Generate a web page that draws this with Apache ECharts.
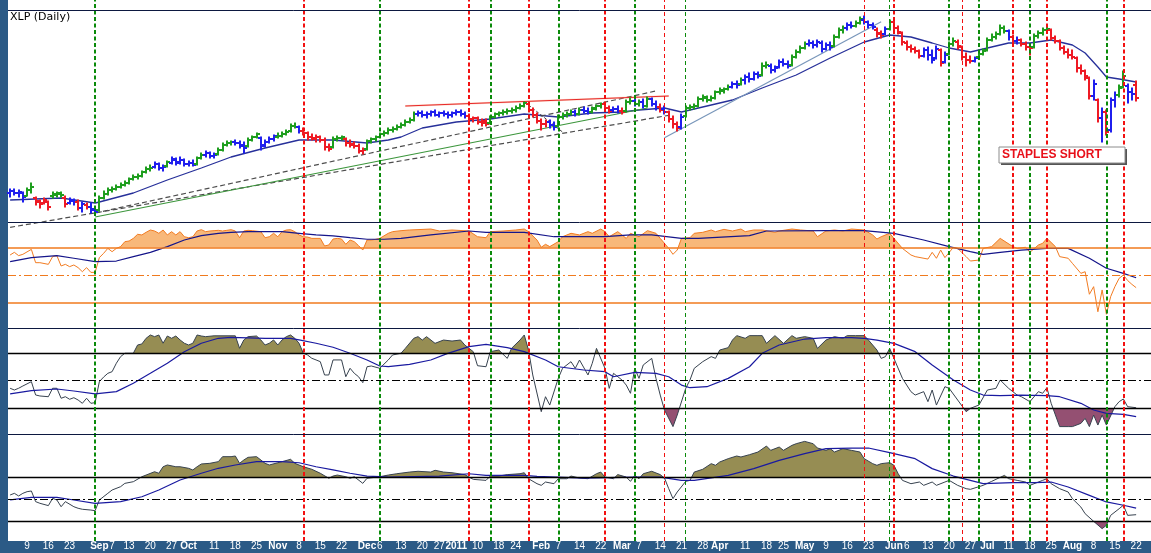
<!DOCTYPE html>
<html><head><meta charset="utf-8">
<script src="https://cdn.jsdelivr.net/npm/echarts@6/dist/echarts.min.js"></script>
<style>html,body{margin:0;padding:0;background:#fff;overflow:hidden}#c{width:1151px;height:553px}</style>
</head><body><div id="c"></div>
<script>
// ---------- calendar ----------
const holidays = ['2010-09-06','2010-11-25','2010-12-24','2010-12-31','2011-01-17','2011-02-21','2011-04-22','2011-05-30','2011-07-04'];
const categories = [];
(function(){
  const d = new Date(Date.UTC(2010,7,3)), end = Date.UTC(2011,7,25);
  while (d.getTime() <= end) {
    const wd = d.getUTCDay(), s = d.toISOString().slice(0,10);
    if (wd !== 0 && wd !== 6 && holidays.indexOf(s) < 0) categories.push(s);
    d.setUTCDate(d.getUTCDate()+1);
  }
})();

// ---------- tick labels ----------
const tickDates = ['2010-08-09','2010-08-16','2010-08-23','2010-09-01','2010-09-07','2010-09-13','2010-09-20','2010-09-27','2010-10-01','2010-10-11','2010-10-18','2010-10-25','2010-11-01','2010-11-08','2010-11-15','2010-11-22','2010-12-01','2010-12-06','2010-12-13','2010-12-20','2010-12-27','2011-01-03','2011-01-10','2011-01-18','2011-01-24','2011-02-01','2011-02-07','2011-02-14','2011-02-22','2011-03-01','2011-03-07','2011-03-14','2011-03-21','2011-03-28','2011-04-01','2011-04-11','2011-04-18','2011-04-25','2011-05-02','2011-05-09','2011-05-16','2011-05-23','2011-06-01','2011-06-06','2011-06-13','2011-06-20','2011-06-27','2011-07-01','2011-07-11','2011-07-18','2011-07-25','2011-08-01','2011-08-08','2011-08-15','2011-08-22'];
const tickTexts = ['9','16','23','Sep','7','13','20','27','Oct','11','18','25','Nov','8','15','22','Dec','6','13','20','27','2011','10','18','24','Feb','7','14','22','Mar','7','14','21','28','Apr','11','18','25','May','9','16','23','Jun','6','13','20','27','Jul','11','18','25','Aug','8','15','22'];

// ---------- XLP daily OHLC ----------
const opens = [
26.67,26.73,26.67,26.67,26.58,26.76,26.52,26.43,26.37,26.40,
26.58,26.61,26.64,26.52,26.37,26.43,26.40,26.22,26.31,26.25,
26.19,26.16,26.52,26.64,26.76,26.79,26.85,26.91,26.97,27.09,
27.15,27.18,27.30,27.39,27.45,27.54,27.42,27.48,27.57,27.66,
27.60,27.66,27.54,27.57,27.54,27.72,27.81,27.87,27.78,27.84,
27.96,28.11,28.17,28.20,28.17,28.08,28.08,28.26,28.35,28.32,
28.11,28.20,28.29,28.35,28.38,28.44,28.53,28.68,28.65,28.53,
28.47,28.35,28.32,28.35,28.26,28.05,28.05,28.29,28.32,28.29,
28.17,28.14,28.08,27.93,27.99,28.23,28.29,28.35,28.44,28.47,
28.56,28.59,28.65,28.71,28.80,28.86,29.04,29.07,29.01,29.04,
29.10,29.01,29.07,29.04,29.01,29.07,29.10,29.04,28.98,28.89,
28.92,28.80,28.83,28.77,28.95,29.04,29.07,29.10,29.13,29.16,
29.22,29.28,29.34,29.16,29.01,28.83,28.74,28.80,28.71,28.68,
28.95,29.01,29.04,29.10,29.04,29.16,29.13,29.10,29.19,29.28,
29.34,29.22,29.16,29.19,29.13,29.13,29.40,29.43,29.34,29.40,
29.28,29.49,29.34,29.25,29.19,29.10,28.89,28.74,28.65,28.98,
29.22,29.25,29.28,29.49,29.52,29.46,29.52,29.70,29.73,29.79,
29.85,29.94,29.94,30.06,30.15,30.09,30.24,30.21,30.48,30.48,
30.36,30.45,30.60,30.54,30.51,30.75,30.90,31.02,31.14,31.17,
31.11,31.17,30.99,31.11,31.08,31.35,31.56,31.62,31.71,31.68,
31.77,31.86,31.80,31.71,31.56,31.47,31.44,31.59,31.80,31.62,
31.47,31.17,31.05,30.99,30.93,30.78,30.96,30.81,30.72,30.96,
30.60,30.84,31.14,31.20,31.05,30.75,30.66,30.63,30.75,30.84,
30.96,31.26,31.35,31.44,31.62,31.53,31.35,31.23,31.26,31.14,
31.05,31.05,31.38,31.47,31.56,31.56,31.32,31.23,31.02,30.90,
30.81,30.72,30.42,30.33,30.12,29.58,29.46,28.92,29.10,28.56,
29.46,29.61,29.85,29.88,29.70,29.91];
const highs = [
26.79,26.79,26.76,26.70,26.82,26.97,26.55,26.46,26.52,26.43,
26.70,26.70,26.70,26.58,26.52,26.49,26.46,26.40,26.37,26.37,
26.25,26.58,26.73,26.82,26.85,26.91,26.97,27.03,27.12,27.21,
27.24,27.33,27.45,27.51,27.60,27.57,27.51,27.63,27.75,27.72,
27.75,27.69,27.63,27.66,27.75,27.87,27.93,27.90,27.87,28.02,
28.17,28.23,28.23,28.26,28.23,28.20,28.32,28.38,28.47,28.35,
28.26,28.35,28.41,28.47,28.50,28.56,28.74,28.77,28.68,28.62,
28.50,28.44,28.41,28.38,28.32,28.14,28.35,28.38,28.38,28.32,
28.26,28.20,28.14,28.02,28.26,28.32,28.38,28.47,28.53,28.62,
28.65,28.71,28.77,28.86,28.92,29.10,29.13,29.13,29.10,29.13,
29.16,29.10,29.13,29.10,29.10,29.16,29.16,29.10,29.04,28.95,
28.95,28.89,28.89,28.98,29.07,29.10,29.16,29.19,29.22,29.28,
29.34,29.40,29.37,29.22,29.07,28.89,28.86,28.86,28.80,29.01,
29.07,29.10,29.16,29.16,29.22,29.25,29.22,29.25,29.31,29.37,
29.37,29.28,29.25,29.28,29.22,29.46,29.52,29.49,29.46,29.49,
29.55,29.52,29.43,29.34,29.28,29.13,28.98,28.80,29.04,29.28,
29.31,29.34,29.55,29.61,29.58,29.58,29.73,29.82,29.82,29.91,
30.00,30.03,30.12,30.21,30.27,30.30,30.30,30.57,30.60,30.54,
30.48,30.66,30.69,30.63,30.81,30.96,31.08,31.20,31.26,31.23,
31.26,31.23,31.17,31.20,31.41,31.62,31.68,31.77,31.80,31.83,
31.95,31.98,31.83,31.77,31.62,31.53,31.65,31.86,31.86,31.68,
31.50,31.23,31.11,31.05,30.96,31.02,31.05,30.96,31.08,30.99,
30.90,31.20,31.32,31.26,31.08,30.87,30.78,30.75,30.90,30.99,
31.32,31.44,31.50,31.71,31.68,31.56,31.41,31.35,31.29,31.20,
31.11,31.44,31.53,31.62,31.65,31.59,31.38,31.26,31.08,30.99,
30.96,30.75,30.51,30.36,30.15,30.06,29.49,29.22,29.16,29.52,
29.70,29.91,30.33,29.94,29.82,30.03];
const lows = [
26.55,26.61,26.55,26.40,26.58,26.67,26.31,26.22,26.34,26.16,
26.52,26.55,26.55,26.25,26.34,26.31,26.16,26.10,26.19,26.07,
26.04,26.13,26.49,26.61,26.70,26.76,26.82,26.88,26.94,27.06,
27.09,27.15,27.27,27.33,27.42,27.36,27.33,27.45,27.54,27.51,
27.54,27.48,27.48,27.48,27.51,27.69,27.75,27.72,27.72,27.81,
27.93,28.08,28.11,28.11,28.02,27.87,28.05,28.23,28.32,27.96,
28.05,28.17,28.23,28.32,28.35,28.41,28.50,28.62,28.47,28.41,
28.26,28.26,28.20,28.20,27.96,27.93,28.02,28.23,28.26,28.08,
28.05,28.02,27.87,27.84,27.96,28.17,28.23,28.32,28.38,28.44,
28.50,28.56,28.62,28.68,28.77,28.83,28.98,28.95,28.92,28.98,
28.98,28.95,28.98,28.92,28.95,29.01,28.98,28.92,28.83,28.80,
28.74,28.68,28.68,28.74,28.92,28.98,29.01,29.04,29.07,29.10,
29.19,29.25,29.10,28.95,28.77,28.56,28.65,28.62,28.56,28.65,
28.89,28.95,29.01,28.98,29.01,29.07,29.04,29.07,29.16,29.22,
29.16,29.07,29.10,29.07,29.04,29.10,29.34,29.28,29.28,29.22,
29.25,29.28,29.16,29.10,29.04,28.80,28.62,28.53,28.59,28.95,
29.16,29.19,29.25,29.43,29.40,29.43,29.49,29.64,29.67,29.76,
29.82,29.82,29.91,29.94,30.00,30.06,30.12,30.18,30.42,30.27,
30.30,30.42,30.48,30.42,30.48,30.72,30.87,30.99,31.08,31.02,
31.05,30.90,30.96,30.96,31.05,31.32,31.47,31.56,31.62,31.65,
31.74,31.74,31.62,31.59,31.35,31.32,31.41,31.56,31.56,31.44,
31.11,30.96,30.90,30.87,30.72,30.75,30.66,30.57,30.69,30.48,
30.57,30.81,31.08,30.99,30.66,30.48,30.57,30.60,30.72,30.81,
30.93,31.23,31.29,31.41,31.47,31.26,31.17,31.14,31.08,30.96,
30.81,31.02,31.32,31.41,31.47,31.26,31.17,30.96,30.84,30.72,
30.69,30.30,30.24,30.06,29.49,29.46,28.80,28.20,28.41,28.50,
29.25,29.55,29.82,29.37,29.46,29.43];
const closes = [
26.73,26.67,26.70,26.55,26.76,26.85,26.40,26.34,26.46,26.25,
26.64,26.67,26.61,26.34,26.46,26.40,26.22,26.34,26.25,26.16,
26.10,26.52,26.64,26.76,26.79,26.85,26.91,26.97,27.09,27.15,
27.18,27.30,27.39,27.42,27.54,27.42,27.45,27.60,27.69,27.57,
27.66,27.54,27.57,27.51,27.72,27.81,27.87,27.78,27.81,27.96,
28.11,28.17,28.20,28.17,28.11,28.02,28.26,28.35,28.44,28.08,
28.20,28.29,28.38,28.38,28.44,28.50,28.68,28.65,28.53,28.47,
28.35,28.29,28.35,28.26,28.05,27.99,28.29,28.32,28.35,28.17,
28.11,28.08,27.93,27.96,28.23,28.29,28.35,28.44,28.47,28.56,
28.59,28.65,28.71,28.80,28.86,29.04,29.07,29.01,29.04,29.10,
29.01,29.07,29.04,29.01,29.07,29.10,29.04,28.98,28.89,28.92,
28.80,28.77,28.74,28.95,29.04,29.07,29.10,29.13,29.16,29.22,
29.28,29.37,29.16,29.01,28.83,28.74,28.80,28.71,28.65,28.95,
29.01,29.04,29.10,29.04,29.16,29.13,29.10,29.22,29.28,29.34,
29.22,29.13,29.19,29.13,29.10,29.40,29.43,29.34,29.40,29.28,
29.49,29.34,29.25,29.16,29.10,28.89,28.74,28.62,28.95,29.22,
29.25,29.28,29.49,29.55,29.46,29.52,29.70,29.76,29.79,29.85,
29.94,29.91,30.06,30.15,30.09,30.24,30.18,30.48,30.51,30.36,
30.42,30.60,30.54,30.48,30.75,30.90,31.02,31.14,31.17,31.11,
31.20,30.99,31.11,31.05,31.35,31.56,31.62,31.71,31.68,31.77,
31.89,31.80,31.71,31.65,31.44,31.41,31.59,31.80,31.62,31.50,
31.20,31.05,30.99,30.93,30.78,30.96,30.81,30.66,30.99,30.57,
30.81,31.14,31.23,31.08,30.75,30.66,30.63,30.72,30.84,30.93,
31.26,31.35,31.44,31.62,31.53,31.35,31.23,31.26,31.14,31.05,
31.02,31.38,31.47,31.56,31.59,31.32,31.23,31.02,30.90,30.81,
30.75,30.42,30.33,30.18,29.58,29.94,28.92,29.10,28.50,29.46,
29.61,29.82,30.18,29.70,29.64,29.52];
// impulse state per bar: g = up, r = down, b = neutral
const impulseCodes = 'bbbbggrrrr'+'gggrbbrbrb'+'bggggggggg'+'ggggbbbgbb'+'bbbbggbbbg'+'gggbbbgggb'+'bbbgggggbr'+'rrrrrrgggr'+'rrrrgggggg'+'ggggggbbbb'+
 'bbbbbbbbrr'+'rrrggggggg'+'ggrrrrrbbg'+'gggbgbbggg'+'rrbbrggbgb'+'gbbrbrrrbg'+'gggggggggg'+'bbgbbbbggb'+'bbbbggggbb'+'bbbbgggbbg'+
 'gbbbrrbgrr'+'rrrrrbbbbr'+'bggrrrrbgg'+'gggggbrbrr'+'rggggrrrrr'+'rrrrrbrbrb'+'bggbbr';

// price moving average [barIndex, value]
const priceMA = [[0,26.46],[12,26.52],[20,26.37],[21,26.40],[29,26.67],[37,27.06],[45,27.42],[52,27.75],[60,28.02],[68,28.26],[76,28.26],[84,28.17],[89,28.26],[92,28.35],[97,28.62],[105,28.80],[113,28.89],[121,29.04],[129,28.95],[137,29.07],[144,29.10],[148,29.16],[154,29.22],[158,29.10],[162,29.22],[170,29.46],[177,29.82],[185,30.21],[193,30.72],[201,31.20],[207,31.41],[212,31.35],[217,31.17],[221,31.02],[226,30.90],[231,31.05],[235,31.17],[240,31.17],[245,31.26],[250,31.11],[253,30.87],[256,30.45],[258,30.15],[261,30.09],[265,30.00]];

// trend lines [barIndex, price]
const lowerChannel = [[0,25.64],[155,29.00]];
const upperChannel = [[20,26.07],[152,29.73]];
const greenTrend = [[20,25.95],[150,29.22]];
const redResistance = [[93,29.28],[155,29.58]];
const shortDown = [[122,29.31],[130,28.50]];
const steelTrend = [[154,28.33],[205,31.81]];

// panel 2 (orange oscillator) and its average
const osc1 = [[0,68.2],[1,70.6],[2,67.6],[3,68.8],[5,73.3],[6,61.2],[7,61.2],[9,59.7],[10,66.7],[11,67.6],[12,58.2],[13,59.7],[14,57.6],[15,59.1],[16,56.7],[17,53.0],[18,56.7],[19,52.4],[20,52.4],[21,65.8],[22,69.7],[23,74.2],[24,71.2],[25,74.2],[26,75.8],[27,80.3],[28,80.9],[29,83.3],[30,87.0],[31,86.4],[32,88.8],[33,90.9],[34,90.0],[35,87.9],[36,90.9],[37,86.4],[38,89.4],[39,86.4],[40,89.4],[41,84.8],[42,83.9],[43,84.8],[44,90.0],[45,91.2],[46,89.4],[47,90.0],[48,90.3],[49,90.6],[50,90.0],[51,90.6],[52,91.2],[53,90.0],[54,83.9],[55,90.0],[56,90.6],[57,90.3],[59,89.4],[60,83.9],[61,84.8],[62,87.9],[63,84.8],[64,89.4],[65,90.9],[66,91.2],[67,89.4],[68,86.4],[69,84.8],[70,84.5],[71,83.3],[73,83.3],[74,76.4],[75,77.3],[76,82.7],[77,83.3],[78,82.7],[79,77.9],[80,81.8],[81,80.3],[82,76.7],[83,72.7],[84,81.8],[85,81.8],[86,82.4],[87,83.3],[89,87.9],[90,89.4],[92,90.3],[94,90.9],[99,91.8],[101,90.0],[104,90.9],[108,90.0],[110,84.8],[112,83.9],[113,89.4],[116,90.0],[119,90.9],[121,91.8],[122,89.4],[124,81.8],[125,75.2],[126,77.9],[127,75.8],[129,80.3],[130,84.8],[132,87.9],[134,86.4],[136,89.4],[137,87.9],[139,91.8],[140,89.4],[141,84.8],[143,89.4],[145,83.3],[146,87.9],[148,84.8],[150,90.3],[152,87.9],[153,83.3],[155,74.2],[156,68.8],[157,72.7],[158,83.3],[160,83.9],[161,87.9],[163,88.8],[165,90.9],[166,89.4],[168,91.5],[170,90.0],[172,91.8],[173,89.4],[175,90.9],[177,90.9],[180,88.8],[181,90.0],[184,91.8],[186,90.9],[189,90.0],[190,84.8],[192,90.0],[194,90.9],[196,90.0],[198,91.8],[201,90.9],[203,86.4],[204,82.7],[205,84.8],[207,87.9],[208,83.3],[210,74.2],[212,68.2],[213,66.7],[216,64.5],[217,70.6],[218,65.2],[219,72.7],[220,65.8],[222,75.2],[223,74.2],[225,66.7],[226,62.7],[228,63.6],[229,74.2],[231,75.8],[233,83.3],[236,75.8],[237,74.2],[239,75.2],[240,70.6],[242,77.3],[243,78.8],[244,83.3],[246,75.8],[247,66.7],[249,65.2],[250,60.6],[252,51.5],[253,53.0],[254,32.5],[255,39.4],[256,16.6],[257,36.4],[258,14.3],[259,30.3],[260,39.4],[261,47.0],[262,50.0],[263,45.0],[264,41.5],[265,38.5]];
const osc1MA = [[0,62.1],[5,65.8],[11,67.6],[15,65.2],[20,62.1],[25,62.7],[29,66.7],[33,70.6],[37,75.8],[41,81.8],[45,85.8],[49,87.9],[52,88.8],[56,89.4],[60,89.4],[64,89.4],[68,87.9],[72,86.4],[76,85.5],[80,83.9],[84,82.5],[88,82.5],[92,83.3],[99,86.4],[108,90.0],[112,88.8],[121,88.8],[128,84.8],[140,84.8],[146,86.4],[151,86.4],[158,83.3],[162,83.3],[174,85.8],[178,90.0],[192,90.3],[201,90.3],[208,87.9],[215,81.8],[221,75.8],[226,71.2],[229,68.8],[233,70.6],[238,72.7],[244,74.2],[249,74.2],[254,65.2],[258,56.1],[262,51.5],[265,47.5]];

// panel 3 (stochastic-type 0-100) and its average
const osc2 = [[0,41.8],[1,39.9],[2,41.8],[3,44.3],[5,49.0],[6,34.5],[7,33.4],[9,32.6],[10,41.8],[11,41.8],[12,30.9],[13,32.6],[14,29.8],[15,31.5],[16,29.0],[17,25.4],[18,30.9],[19,25.4],[20,26.1],[21,49.0],[22,54.0],[23,58.1],[24,59.9],[25,69.1],[26,76.3],[27,80.0],[29,80.0],[30,89.0],[31,90.1],[32,96.3],[33,99.9],[34,98.1],[35,99.9],[36,90.9],[37,98.8],[38,96.3],[39,98.8],[40,94.5],[41,90.9],[42,89.0],[43,90.9],[44,99.9],[45,98.8],[46,98.1],[48,99.0],[53,99.0],[54,85.4],[55,94.5],[56,98.1],[58,98.8],[59,94.5],[60,89.0],[61,90.9],[62,94.5],[63,89.0],[64,94.5],[65,98.1],[66,99.9],[67,96.3],[68,90.9],[69,80.0],[70,78.1],[71,74.5],[72,72.7],[73,70.8],[74,56.3],[75,56.3],[76,72.7],[78,72.7],[79,54.4],[80,63.6],[81,58.1],[82,54.4],[83,47.9],[84,65.3],[85,66.1],[87,63.6],[89,72.7],[90,78.1],[92,80.0],[93,85.3],[95,96.3],[96,98.1],[97,94.4],[98,98.1],[100,90.8],[102,94.4],[104,93.3],[106,94.4],[107,89.0],[109,81.7],[110,66.4],[112,65.3],[113,81.7],[115,83.5],[117,74.4],[118,85.3],[120,94.4],[121,99.9],[122,83.5],[123,56.3],[125,16.3],[126,32.6],[127,23.5],[129,52.6],[130,63.5],[132,70.8],[133,63.5],[134,72.6],[136,56.3],[137,69.0],[138,85.3],[140,63.5],[141,41.7],[142,58.1],[144,50.8],[145,45.3],[146,36.3],[147,63.5],[148,52.6],[149,67.2],[151,74.4],[152,52.6],[153,34.4],[154,18.1],[156,0],[157,12.6],[159,41.7],[160,50.8],[161,63.5],[163,70.8],[165,76.3],[166,74.4],[167,83.5],[169,86.1],[170,94.4],[171,99.2],[173,96.3],[174,99.2],[176,99.2],[177,99.2],[178,90.8],[180,99.2],[182,90.8],[184,99.2],[185,96.3],[187,98.1],[189,96.3],[190,85.3],[192,94.4],[194,98.1],[196,96.3],[197,99.2],[199,99.2],[201,99.2],[202,94.4],[204,83.5],[205,74.4],[206,76.3],[207,85.3],[208,74.4],[210,52.6],[212,38.1],[213,34.4],[215,38.1],[216,27.2],[217,39.9],[218,23.5],[220,43.5],[221,41.7],[223,29.0],[225,16.3],[226,19.9],[228,23.5],[230,39.9],[232,41.7],[233,50.8],[235,41.7],[237,34.4],[238,32.6],[240,27.2],[242,38.1],[243,36.3],[244,42.4],[245,25.4],[247,0],[249,0],[250,0],[252,3.5],[253,9.0],[254,0],[255,12.6],[256,1.7],[257,12.6],[258,1.7],[260,21.7],[261,27.2],[262,30.1],[263,21.7],[265,20.6]];
const osc2MA = [[0,35.6],[5,39.2],[11,41.0],[15,38.8],[20,35.6],[25,38.1],[29,47.2],[33,58.1],[37,69.1],[41,81.7],[45,90.9],[49,96.3],[52,97.4],[60,96.3],[66,96.3],[68,94.5],[72,90.9],[76,86.5],[80,80.0],[84,72.7],[87,66.1],[89,65.3],[94,67.9],[99,72.6],[103,79.9],[108,87.2],[112,89.7],[117,86.1],[121,81.7],[126,72.6],[129,65.3],[135,61.7],[140,59.9],[142,54.4],[147,59.2],[152,58.1],[155,54.4],[158,45.3],[160,42.4],[164,43.5],[169,52.6],[174,65.3],[177,79.9],[181,89.0],[187,95.5],[192,97.0],[198,97.0],[201,96.3],[204,94.4],[208,90.8],[213,81.7],[217,67.2],[222,50.8],[226,39.9],[229,34.4],[233,33.7],[238,34.4],[244,33.7],[247,32.6],[252,25.4],[255,18.1],[258,14.5],[262,13.4],[265,10.8]];

// panel 4 (momentum-type) and its average
const osc3 = [[0,3.9],[1,5.4],[2,3.0],[3,5.4],[4,6.9],[5,7.5],[6,-2.1],[7,-3.6],[9,-5.7],[10,0.9],[11,-0.6],[12,-6.7],[13,-2.1],[15,-6.7],[16,-8.1],[17,-9.0],[19,-9.7],[20,-10.3],[21,-0.6],[23,5.4],[24,8.4],[26,11.4],[27,14.4],[29,15.9],[31,20.4],[32,21.9],[34,24.9],[35,23.5],[36,29.4],[37,31.0],[39,29.4],[40,29.4],[42,28.0],[43,26.5],[44,29.4],[45,31.9],[47,32.5],[49,34.0],[50,38.5],[52,38.5],[53,39.1],[54,32.5],[55,35.5],[56,37.9],[58,38.5],[60,32.5],[61,31.0],[63,33.0],[64,34.0],[66,36.1],[67,32.5],[69,29.4],[71,27.1],[73,23.5],[75,19.0],[76,21.0],[77,21.9],[79,20.4],[80,19.0],[81,20.4],[83,14.4],[84,19.0],[86,19.9],[87,20.4],[89,21.9],[91,23.1],[94,24.6],[96,25.3],[99,24.6],[100,26.2],[102,24.6],[104,24.0],[107,22.3],[108,20.1],[109,18.0],[112,17.1],[113,21.0],[115,21.0],[117,22.3],[120,23.1],[121,24.0],[122,18.6],[124,14.1],[125,12.6],[126,15.6],[128,14.1],[129,18.6],[131,18.6],[132,21.0],[134,19.2],[136,18.6],[138,23.1],[139,24.6],[140,20.1],[142,18.6],[143,22.3],[145,20.1],[146,16.2],[147,21.6],[148,18.6],[149,23.1],[151,25.3],[153,22.3],[154,19.2],[155,9.6],[156,0.6],[157,6.6],[159,16.2],[160,17.1],[161,24.6],[163,27.1],[165,32.2],[166,30.7],[167,33.7],[169,36.7],[171,39.1],[172,38.2],[174,40.3],[176,42.7],[178,48.1],[179,44.2],[181,47.2],[182,44.2],[184,48.7],[185,50.2],[187,52.3],[189,50.2],[190,46.3],[192,44.2],[193,45.7],[194,42.7],[196,45.7],[198,44.2],[200,42.7],[201,36.7],[203,32.2],[204,30.7],[205,32.2],[207,33.1],[208,30.7],[209,23.1],[210,17.1],[212,14.1],[214,15.6],[215,12.6],[217,15.6],[218,12.6],[220,15.6],[221,17.1],[223,12.6],[225,9.6],[226,9.0],[229,12.6],[231,16.2],[234,21.6],[235,18.6],[237,17.1],[239,15.6],[240,12.6],[243,17.1],[244,18.6],[245,14.1],[247,9.6],[249,6.6],[250,0.6],[252,-7.0],[253,-13.0],[255,-19.9],[257,-26.5],[258,-23.5],[259,-14.5],[261,-8.5],[262,-5.4],[263,-14.5],[265,-13.9]];
const osc3MA = [[0,-0.6],[5,1.8],[11,1.8],[15,-0.6],[20,-3.6],[26,-2.1],[31,2.3],[35,8.4],[40,17.4],[45,23.5],[49,28.0],[53,31.0],[58,34.0],[64,34.0],[68,33.0],[72,29.4],[76,26.5],[80,23.5],[84,21.0],[87,20.4],[89,20.1],[101,21.0],[108,23.1],[112,21.6],[121,21.6],[124,20.7],[135,19.2],[147,20.1],[153,20.1],[158,17.1],[161,17.1],[169,21.6],[175,27.7],[181,35.2],[187,41.2],[192,45.7],[198,46.3],[202,46.3],[207,42.1],[213,36.7],[217,27.7],[222,21.0],[229,14.1],[236,15.0],[241,15.0],[245,15.6],[249,11.1],[254,3.6],[258,-2.4],[262,-5.4],[265,-7.9]];

// signal dates
const greenSignals = ['2010-08-31','2010-12-06','2011-01-13','2011-02-07','2011-03-04','2011-03-22','2011-05-31','2011-06-20','2011-06-29','2011-07-18','2011-08-11'];
const redSignals = ['2010-11-09','2011-01-06','2011-01-27','2011-02-23','2011-03-15','2011-05-20','2011-06-01','2011-06-23','2011-07-12','2011-07-22','2011-08-17'];
const minorSignals = ['2011-03-15','2011-03-22','2011-05-20','2011-05-31','2011-06-23'];

// ---------- chart ----------
const chart = echarts.init(document.getElementById('c'), null, {renderer:'canvas'});
const FONT = '"DejaVu Sans", Verdana, sans-serif';
const palette = {g:'#1e9e1e', b:'#1f1fee', r:'#ee1a24'};
const bars = closes.map((c,i) => [i, opens[i], highs[i], lows[i], c]);

function clipToLevel(pts, level, above) {
  const out = [];
  for (let k = 0; k < pts.length; k++) {
    const p = pts[k];
    if (k > 0) {
      const q = pts[k-1];
      if ((q[1]-level)*(p[1]-level) < 0) {
        const t = (level - q[1])/(p[1]-q[1]);
        out.push([q[0] + t*(p[0]-q[0]), level]);
      }
    }
    out.push([p[0], above ? Math.max(p[1], level) : Math.min(p[1], level)]);
  }
  return out;
}
function fillSeries(pts, level, above, color, axis) {
  const clipped = clipToLevel(pts, level, above);
  return {
    type:'custom', xAxisIndex:axis, yAxisIndex:axis, silent:true, z:1,
    data:[[0, level]], encode:{x:0, y:1},
    renderItem: function(params, api) {
      const p = clipped.map(v => api.coord(v));
      p.push(api.coord([clipped[clipped.length-1][0], level]));
      p.push(api.coord([clipped[0][0], level]));
      return {type:'polygon', shape:{points:p}, style:{fill:color}};
    }
  };
}
function lineSeries(data, axis, color, width, extra) {
  return Object.assign({
    type:'line', xAxisIndex:axis, yAxisIndex:axis, data:data, showSymbol:false, symbol:'none',
    silent:true, z:3, lineStyle:{color:color, width:width}
  }, extra || {});
}
function levels(axis, hi, mid, lo, color, w) {
  return {
    symbol:['none','none'], silent:true, label:{show:false}, animation:false,
    data:[
      {yAxis:hi, lineStyle:{color:color, width:w, type:'solid'}},
      {yAxis:mid, lineStyle:{color:color, width:1, type:[8,3,2,3]}},
      {yAxis:lo, lineStyle:{color:color, width:w, type:'solid'}}
    ]
  };
}

const gridsPx = [
  {left:8, right:0, top:10, height:212},
  {left:8, right:0, top:222, height:106.3},
  {left:8, right:0, top:328.3, height:106},
  {left:8, right:0, top:434.3, height:106.7},
  {left:8, right:0, top:0, height:541}
];
const xAxes = gridsPx.map((g,k) => ({type:'value', gridIndex:k, min:-0.5, max:268.5, show:false, position: k===4?'top':'bottom'}));
xAxes.push({
  type:'category', gridIndex:4, position:'bottom', data:categories, boundaryGap:true,
  axisLine:{show:false}, axisTick:{show:false}, splitLine:{show:false}, z:30,
  axisLabel:{
    interval: (idx, val) => tickDates.indexOf(val) >= 0,
    formatter: (val) => { const t = tickTexts[tickDates.indexOf(val)]; return t.length > 2 ? '{b|' + t + '}' : t; },
    color:'#ffffff', fontSize:10, fontFamily:'"Liberation Sans", Arial, sans-serif', margin:0, lineHeight:11,
    rich:{ b:{fontWeight:'bold', color:'#ffffff', fontSize:10, fontFamily:'"Liberation Sans", Arial, sans-serif', lineHeight:11} }
  }
});
const yRanges = [[25.8,32.16],[1.55,98.18],[-8.4,107.2],[-37.65,58.7],[0,1]];
const yAxes = yRanges.map((r,k) => ({type:'value', gridIndex:k, min:r[0], max:r[1], show:false, splitLine:{show:false}}));

const signalData = [];
greenSignals.concat(redSignals).forEach(d => {
  const idx = categories.indexOf(d);
  if (idx < 0) return;
  const minor = minorSignals.indexOf(d) >= 0;
  const isGreen = greenSignals.indexOf(d) >= 0;
  signalData.push({xAxis: idx, lineStyle:{color: isGreen ? '#0a8a0a' : '#f21010', width: minor ? 1 : 2, type: minor ? [4,3] : [4,2.5]}});
});

const series = [
  // price panel
  lineSeries(priceMA, 0, '#27309a', 1.3),
  lineSeries(lowerChannel, 0, '#4d4d4d', 1.2, {clip:false, lineStyle:{color:'#4d4d4d', width:1.2, type:[5,3]}}),
  lineSeries(upperChannel, 0, '#4d4d4d', 1.2, {clip:false, lineStyle:{color:'#4d4d4d', width:1.2, type:[5,3]}}),
  lineSeries(greenTrend, 0, '#3c963c', 1.2, {clip:false}),
  lineSeries(redResistance, 0, '#f4a27a', 2, {clip:false, lineStyle:{color:'rgba(244,150,110,0.35)', width:2}}),
  lineSeries(redResistance, 0, '#e82828', 1, {clip:false}),
  lineSeries(shortDown, 0, '#444', 1, {clip:false, lineStyle:{color:'#444', width:1, type:[3,2]}}),
  lineSeries(steelTrend, 0, '#7896ba', 1.2, {clip:false}),
  {
    type:'custom', xAxisIndex:0, yAxisIndex:0, data:bars, encode:{x:0, y:[1,2,3,4]}, z:4, silent:true,
    renderItem: function(params, api) {
      const i = api.value(0), o = api.value(1), h = api.value(2), l = api.value(3), c = api.value(4);
      const top = api.coord([i, Math.max(o,h,l,c)]), bot = api.coord([i, Math.min(o,h,l,c)]);
      const po = api.coord([i, o]), pc = api.coord([i, c]);
      const col = palette[impulseCodes[params.dataIndex]] || palette.b;
      const x = Math.round(top[0]);
      return {type:'group', children:[
        {type:'line', shape:{x1:x, y1:top[1]-0.5, x2:x, y2:bot[1]+0.5}, style:{stroke:col, lineWidth:2}},
        {type:'line', shape:{x1:x-3, y1:po[1], x2:x, y2:po[1]}, style:{stroke:col, lineWidth:2}},
        {type:'line', shape:{x1:x, y1:pc[1], x2:x+3, y2:pc[1]}, style:{stroke:col, lineWidth:2}}
      ]};
    }
  },
  // panel 2
  fillSeries(osc1, 75, true, '#f8b87a', 1),
  lineSeries(osc1, 1, '#f27c22', 1, {markLine: levels(1, 75, 50, 25, '#f07a1e', 1.5)}),
  lineSeries(osc1MA, 1, '#15158a', 1.2),
  // panel 3
  fillSeries(osc2, 80, true, '#968d53', 2),
  fillSeries(osc2, 20, false, '#945072', 2),
  lineSeries(osc2, 2, '#37424f', 1, {markLine: levels(2, 80, 50, 20, '#000000', 1.4)}),
  lineSeries(osc2MA, 2, '#1a1aa0', 1.2),
  // panel 4
  fillSeries(osc3, 20, true, '#968d53', 3),
  fillSeries(osc3, -20, false, '#945072', 3),
  lineSeries(osc3, 3, '#37424f', 1, {markLine: levels(3, 20, 0, -20, '#000000', 1.4)}),
  lineSeries(osc3MA, 3, '#1a1aa0', 1.2),
  // signal verticals
  {type:'line', xAxisIndex:4, yAxisIndex:4, data:[[-50,-5]], showSymbol:false, silent:true, z:10,
   lineStyle:{width:0}, markLine:{symbol:['none','none'], silent:true, label:{show:false}, animation:false, data:signalData}}
];

const W = 1151;
chart.setOption({
  animation:false,
  backgroundColor:'#ffffff',
  grid: gridsPx.map(g => Object.assign({outerBoundsMode:'none', containLabel:false}, g)),
  xAxis: xAxes,
  yAxis: yAxes,
  series: series,
  graphic: [
    {type:'rect', z:0, silent:true, shape:{x:0, y:0, width:8, height:553}, style:{fill:'#2b5a86'}},
    {type:'rect', z:0, silent:true, shape:{x:0, y:541, width:W, height:12}, style:{fill:'#2b5a86'}},
    {type:'line', z:6, silent:true, shape:{x1:8, y1:10.5, x2:W, y2:10.5}, style:{stroke:'#0c1840', lineWidth:1}},
    {type:'line', z:6, silent:true, shape:{x1:8, y1:222.5, x2:W, y2:222.5}, style:{stroke:'#0c1840', lineWidth:1}},
    {type:'line', z:6, silent:true, shape:{x1:8, y1:328.5, x2:W, y2:328.5}, style:{stroke:'#0c1840', lineWidth:1}},
    {type:'line', z:6, silent:true, shape:{x1:8, y1:434.5, x2:W, y2:434.5}, style:{stroke:'#0c1840', lineWidth:1}},
    {type:'text', z:6, silent:true, left:10, top:12, style:{text:'XLP (Daily)', fill:'#000', font:'11px ' + FONT}},
    {type:'rect', z:7, silent:true, shape:{x:1001, y:149, width:126, height:16}, style:{fill:'#555'}},
    {type:'rect', z:7, silent:true, shape:{x:999, y:147, width:126, height:16}, style:{fill:'#fff', stroke:'#8c8c8c', lineWidth:1}},
    {type:'text', z:8, silent:true, left:1002, top:149, style:{text:'STAPLES SHORT', fill:'#e8101a', font:'bold 12px "Liberation Sans", Arial, sans-serif'}}
  ]
});
</script>
</body></html>
